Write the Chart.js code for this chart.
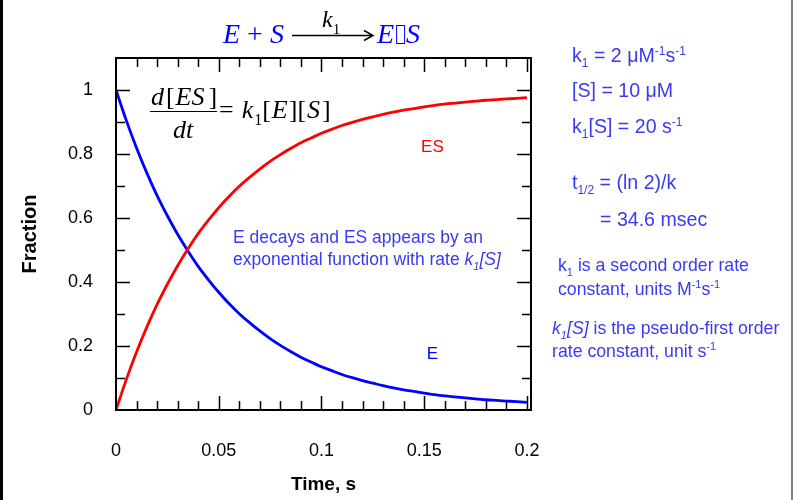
<!DOCTYPE html>
<html>
<head>
<meta charset="utf-8">
<script src="https://cdn.jsdelivr.net/npm/chart.js@4"></script>
<style>
  html, body { margin: 0; padding: 0; background: #fff; }
  canvas { display: block; }
</style>
</head>
<body>
<canvas id="c" width="793" height="500"></canvas>
<script>
// Time points (s)
const timeS = [0, 0.005, 0.01, 0.015, 0.02, 0.025, 0.03, 0.035, 0.04, 0.045,
  0.05, 0.055, 0.06, 0.065, 0.07, 0.075, 0.08, 0.085, 0.09, 0.095,
  0.1, 0.105, 0.11, 0.115, 0.12, 0.125, 0.13, 0.135, 0.14, 0.145,
  0.15, 0.155, 0.16, 0.165, 0.17, 0.175, 0.18, 0.185, 0.19, 0.195, 0.2];

// Free enzyme fraction E
const fractionE = [1, 0.905, 0.819, 0.741, 0.670, 0.607, 0.549, 0.497, 0.449, 0.407,
  0.368, 0.333, 0.301, 0.273, 0.247, 0.223, 0.202, 0.183, 0.165, 0.150,
  0.135, 0.123, 0.111, 0.101, 0.092, 0.084, 0.076, 0.069, 0.063, 0.058,
  0.053, 0.048, 0.044, 0.041, 0.038, 0.035, 0.032, 0.030, 0.028, 0.026, 0.024];

// Complex fraction ES
const fractionES = [0, 0.095, 0.181, 0.259, 0.330, 0.393, 0.451, 0.503, 0.551, 0.593,
  0.632, 0.667, 0.699, 0.727, 0.753, 0.777, 0.798, 0.817, 0.835, 0.850,
  0.865, 0.877, 0.889, 0.899, 0.908, 0.916, 0.924, 0.931, 0.937, 0.942,
  0.947, 0.952, 0.956, 0.959, 0.962, 0.965, 0.968, 0.970, 0.972, 0.974, 0.976];

// Axis ticks
const xTickValues = [0, 0.05, 0.1, 0.15, 0.2];
const yTickValues = [0, 0.2, 0.4, 0.6, 0.8, 1];
const xMinorTicks = [0.01, 0.02, 0.03, 0.04, 0.05, 0.06, 0.07, 0.08, 0.09, 0.1,
  0.11, 0.12, 0.13, 0.14, 0.15, 0.16, 0.17, 0.18, 0.19, 0.2];
const yMinorTicks = [0.1, 0.2, 0.3, 0.4, 0.5, 0.6, 0.7, 0.8, 0.9, 1];

const SANS = '"Liberation Sans", Arial, sans-serif';
const SERIF = '"Liberation Serif", "Times New Roman", serif';
const NOTE = 'rgb(58,58,240)';

function fontFor(p, size, family) {
  const s = (p.sub || p.sup) ? Math.round(size * 0.62) : size;
  return (p.i ? 'italic ' : '') + (p.b ? 'bold ' : '') + s + 'px ' + family;
}

// Draws a run of text pieces with optional italics, sub-/superscripts and extra gaps.
function drawRuns(ctx, x, y, parts, size, family, color, align) {
  if (align === 'center') {
    let w = 0;
    for (const p of parts) { ctx.font = fontFor(p, size, family); w += ctx.measureText(p.t).width + (p.g || 0); }
    x -= w / 2;
  }
  for (const p of parts) {
    ctx.font = fontFor(p, size, family);
    ctx.fillStyle = p.c || color;
    const dy = p.sub ? size * 0.28 : (p.sup ? -size * 0.38 : 0);
    ctx.fillText(p.t, x, y + dy);
    x += ctx.measureText(p.t).width + (p.g || 0);
  }
  return x;
}

const near = (a, list) => list.some(v => Math.abs(v - a) < 1e-9);

const decorations = {
  id: 'decorations',
  afterDraw(chart) {
    const ctx = chart.ctx;
    const { left, right, top, bottom } = chart.chartArea;
    const xs = chart.scales.x, ys = chart.scales.y;
    ctx.save();
    ctx.textBaseline = 'alphabetic';
    ctx.textAlign = 'left';

    // page edges
    ctx.fillStyle = '#000';
    ctx.fillRect(0, 0, 3, chart.height);
    ctx.fillStyle = '#7f7f7f';
    ctx.fillRect(chart.width - 2, 0, 2, chart.height);

    // plot frame
    ctx.strokeStyle = '#000';
    ctx.lineWidth = 2;
    ctx.strokeRect(left, top, right - left, bottom - top);

    // inward tick marks on all four sides
    ctx.lineWidth = 1.5;
    ctx.beginPath();
    for (const v of xMinorTicks) {
      const px = Math.round(xs.getPixelForValue(v)) + 0.5;
      const len = near(v, xTickValues) ? 14 : 9;
      ctx.moveTo(px, bottom); ctx.lineTo(px, bottom - len);
      ctx.moveTo(px, top); ctx.lineTo(px, top + len);
    }
    for (const v of yMinorTicks) {
      const py = Math.round(ys.getPixelForValue(v)) + 0.5;
      const len = near(v, yTickValues) ? 14 : 9;
      ctx.moveTo(left, py); ctx.lineTo(left + len, py);
      ctx.moveTo(right, py); ctx.lineTo(right - len, py);
    }
    ctx.stroke();

    // reaction title: E + S --k1--> E.S
    drawRuns(ctx, 223, 43, [{ t: 'E', i: 1 }, { t: ' + ' }, { t: 'S', i: 1 }], 28, SERIF, '#0000ff');
    ctx.strokeStyle = '#000';
    ctx.lineWidth = 1.5;
    ctx.beginPath();
    ctx.moveTo(292, 35.5); ctx.lineTo(373, 35.5);
    ctx.moveTo(364, 30.5); ctx.lineTo(373, 35.5); ctx.lineTo(364, 40.5);
    ctx.stroke();
    drawRuns(ctx, 322, 27, [{ t: 'k', i: 1 }, { t: '1', sub: 1 }], 24, SERIF, '#000');
    let bx = drawRuns(ctx, 377, 43, [{ t: 'E', i: 1 }], 28, SERIF, '#0000ff');
    ctx.strokeStyle = '#0000ff';
    ctx.lineWidth = 1;
    ctx.strokeRect(bx + 2.5, 25.5, 8, 18);
    drawRuns(ctx, bx + 12, 43, [{ t: 'S', i: 1 }], 28, SERIF, '#0000ff');

    // rate equation
    drawRuns(ctx, 184, 105, [{ t: 'd', i: 1, g: 2 }, { t: '[', g: 1 }, { t: 'ES', i: 1, g: 4 }, { t: ']' }], 26, SERIF, '#000', 'center');
    ctx.strokeStyle = '#000';
    ctx.lineWidth = 1;
    ctx.beginPath(); ctx.moveTo(150, 111.5); ctx.lineTo(217, 111.5); ctx.stroke();
    drawRuns(ctx, 183, 138, [{ t: 'dt', i: 1 }], 26, SERIF, '#000', 'center');
    drawRuns(ctx, 219, 118, [{ t: '=', g: 8 }, { t: 'k', i: 1, g: 1 }, { t: '1', sub: 1 }, { t: '[', g: 1 }, { t: 'E', i: 1, g: 1 },
      { t: '][', g: 1 }, { t: 'S', i: 1, g: 2 }, { t: ']' }], 26, SERIF, '#000');

    // curve labels
    ctx.textAlign = 'center';
    ctx.font = '17px ' + SANS;
    ctx.fillStyle = '#ff0000';
    ctx.fillText('ES', xs.getPixelForValue(0.154), ys.getPixelForValue(0.805));
    ctx.fillStyle = '#0000ff';
    ctx.fillText('E', xs.getPixelForValue(0.154), ys.getPixelForValue(0.16));
    ctx.textAlign = 'left';

    // note inside the plot
    drawRuns(ctx, 233, 243, [{ t: 'E decays and ES appears by an' }], 17.5, SANS, NOTE);
    drawRuns(ctx, 233, 265, [{ t: 'exponential function with rate ' }, { t: 'k', i: 1 }, { t: '1', i: 1, sub: 1 }, { t: '[S]', i: 1 }], 17.5, SANS, NOTE);

    // side notes
    const fa = 19.6, fb = 17.7;
    drawRuns(ctx, 572, 62, [{ t: 'k' }, { t: '1', sub: 1 }, { t: ' = 2 \u03BCM' }, { t: '-1', sup: 1 }, { t: 's' }, { t: '-1', sup: 1 }], fa, SANS, NOTE);
    drawRuns(ctx, 572, 97, [{ t: '[S] = 10 \u03BCM' }], fa, SANS, NOTE);
    drawRuns(ctx, 572, 133, [{ t: 'k' }, { t: '1', sub: 1 }, { t: '[S] = 20 s' }, { t: '-1', sup: 1 }], fa, SANS, NOTE);
    drawRuns(ctx, 572, 189, [{ t: 't' }, { t: '1/2', sub: 1 }, { t: ' = (ln 2)/k' }], fa, SANS, NOTE);
    drawRuns(ctx, 600, 226, [{ t: '= 34.6 msec' }], fa, SANS, NOTE);
    drawRuns(ctx, 558, 271, [{ t: 'k' }, { t: '1', sub: 1 }, { t: ' is a second order rate' }], fb, SANS, NOTE);
    drawRuns(ctx, 558, 295, [{ t: 'constant, units M' }, { t: '-1', sup: 1 }, { t: 's' }, { t: '-1', sup: 1 }], fb, SANS, NOTE);
    drawRuns(ctx, 552, 334, [{ t: 'k', i: 1 }, { t: '1', i: 1, sub: 1 }, { t: '[S]', i: 1 }, { t: ' is the pseudo-first order' }], fb, SANS, NOTE);
    drawRuns(ctx, 552, 357, [{ t: 'rate constant, unit s' }, { t: '-1', sup: 1 }], fb, SANS, NOTE);

    ctx.restore();
  }
};

new Chart(document.getElementById('c'), {
  type: 'line',
  data: {
    datasets: [
      {
        label: 'ES',
        data: timeS.map((t, i) => ({ x: t, y: fractionES[i] })),
        borderColor: '#ff0000',
        borderWidth: 2.8,
        pointRadius: 0,
        cubicInterpolationMode: 'monotone',
        fill: false
      },
      {
        label: 'E',
        data: timeS.map((t, i) => ({ x: t, y: fractionE[i] })),
        borderColor: '#0000ff',
        borderWidth: 2.8,
        pointRadius: 0,
        cubicInterpolationMode: 'monotone',
        fill: false
      }
    ]
  },
  options: {
    responsive: false,
    animation: false,
    events: [],
    layout: { padding: { left: 0, right: 262, top: 58, bottom: 0 } },
    plugins: { legend: { display: false }, tooltip: { enabled: false } },
    scales: {
      x: {
        type: 'linear',
        min: 0,
        max: 0.202,
        afterBuildTicks: s => { s.ticks = xTickValues.map(v => ({ value: v })); },
        afterFit: s => { s.height = 90; },
        grid: { display: false, drawTicks: false },
        border: { display: false },
        ticks: {
          color: '#000',
          font: { family: SANS, size: 18 },
          padding: 30,
          maxRotation: 0,
          callback: v => String(v)
        },
        title: {
          display: true,
          text: 'Time, s',
          color: '#000',
          font: { family: SANS, size: 19, weight: 'bold' },
          padding: { top: 0, bottom: 4 }
        }
      },
      y: {
        type: 'linear',
        min: 0,
        max: 1.1,
        afterBuildTicks: s => { s.ticks = yTickValues.map(v => ({ value: v })); },
        afterFit: s => { s.width = 116; },
        grid: { display: false, drawTicks: false },
        border: { display: false },
        ticks: {
          color: '#000',
          font: { family: SANS, size: 18 },
          padding: 23,
          callback: v => String(v)
        },
        title: {
          display: true,
          text: 'Fraction',
          color: '#000',
          font: { family: SANS, size: 20, weight: 'bold' },
          padding: { top: 18, bottom: 0 }
        }
      }
    }
  },
  plugins: [decorations]
});
</script>
</body>
</html>
